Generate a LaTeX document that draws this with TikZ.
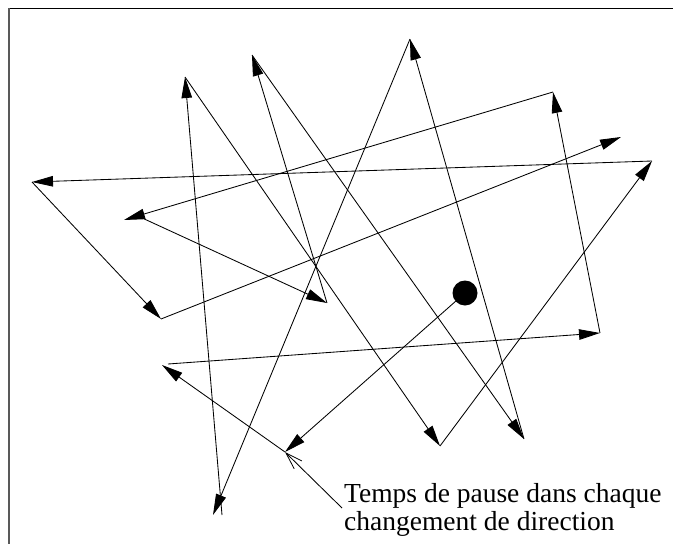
\documentclass[tikz,border=0pt]{standalone}
\usepackage{fontspec}
\setmainfont{Liberation Serif}
\usetikzlibrary{arrows.meta}
\begin{document}
\begin{tikzpicture}[x=1pt,y=-1pt,
  seg/.style={line width=0.85pt, line join=miter, -{Triangle[length=21pt,width=10.5pt]}},
  annot/.style={line width=0.85pt, -{Straight Barb[length=17pt,width=11pt,line width=0.8pt]}},
  lbl/.style={font=\fontsize{27.5}{28}\selectfont, inner sep=0pt, anchor=base west}]
\useasboundingbox (0,0) rectangle (673,544);
% frame (clipped)
\draw[line width=1.2pt, black] (8,8.5) -- (673,8.5);
\draw[line width=2pt, black!65] (9,8) -- (9,544);
% vertices
\coordinate (d) at (465,293);
\coordinate (a) at (285,452);
\coordinate (b) at (162,365);
\coordinate (b2) at (168,364);
\coordinate (c) at (600,333);
\coordinate (e) at (553,92);
\coordinate (f) at (124,220);
\coordinate (f2) at (140,217);
\coordinate (g) at (327,303);
\coordinate (h) at (252,55);
\coordinate (i) at (524,439);
\coordinate (j) at (410,39);
\coordinate (k) at (213,515);
\coordinate (k2) at (222,515);
\coordinate (l) at (185,77);
\coordinate (m) at (440,446);
\coordinate (n) at (652,161);
\coordinate (o) at (32,182);
\coordinate (p) at (161,319);
\coordinate (q) at (621,137);
% path
\draw[seg] (d) -- (a);
\draw[seg] (a) -- (b);
\draw[seg] (b2) -- (c);
\draw[seg] (c) -- (e);
\draw[seg] (e) -- (f);
\draw[seg] (f2) -- (g);
\draw[seg] (g) -- (h);
\draw[seg] (h) -- (i);
\draw[seg] (i) -- (j);
\draw[seg] (j) -- (k);
\draw[seg] (k2) -- (l);
\draw[seg] (l) -- (m);
\draw[seg] (m) -- (n);
\draw[seg] (n) -- (o);
\draw[seg] (o) -- (p);
\draw[seg] (p) -- (q);
% start dot
\node[circle, fill=black, minimum size=25pt, inner sep=0pt] (dot) at (d) {};
% label
\node[lbl] (t1) at (344,502) {Temps de pause dans chaque};
\node[lbl] (t2) at (344,530) {changement de direction};
\coordinate (an) at (342,508);
\draw[annot] (an) -- (a);
\end{tikzpicture}
\end{document}
